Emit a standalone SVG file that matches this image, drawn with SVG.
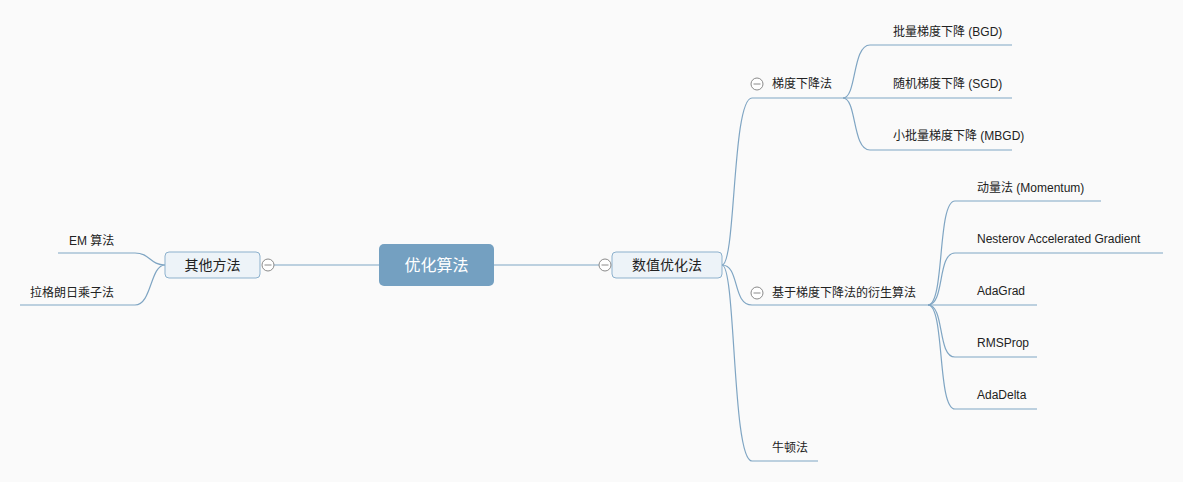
<svg xmlns="http://www.w3.org/2000/svg" width="1183" height="482" viewBox="0 0 1183 482">
<defs>
<style>
.bg{fill:#fafafa}
.ln{fill:none;stroke:#7fa5c3;stroke-width:1.2}
.t{font-family:"Liberation Sans","Noto Sans CJK SC",sans-serif;font-size:12px;fill:#222}
.t14{font-family:"Liberation Sans","Noto Sans CJK SC",sans-serif;font-size:14px;fill:#222;text-anchor:middle}
.root{fill:#74a0c1}
.rt{font-family:"Liberation Sans","Noto Sans CJK SC",sans-serif;font-size:16px;fill:#ffffff;text-anchor:middle}
.box{fill:#edf3f8;stroke:#8db1cd;stroke-width:1}
.cc{fill:#ffffff;stroke:#8a8a8a;stroke-width:1}
.cl{stroke:#8a8a8a;stroke-width:1}
</style>
<g id="collapse">
<circle class="cc" cx="0" cy="0" r="6"/>
<line class="cl" x1="-3.5" y1="0" x2="3.5" y2="0"/>
</g>
</defs>
<rect class="bg" x="0" y="0" width="1183" height="482"/>
<g id="connectors">
<path class="ln" d="M494,265 H599"/>
<path class="ln" d="M274,265 H379"/>
<path class="ln" d="M722,265 C736,265 732,98 752,98 H843"/>
<path class="ln" d="M722,265 C740,265 732,305 752,305 H928"/>
<path class="ln" d="M722,265 C736,265 732,461 752,461 H818"/>
<path class="ln" d="M843,98 C857,98 852,45 870,45 H1012"/>
<path class="ln" d="M843,98 H1012"/>
<path class="ln" d="M843,98 C857,98 852,150 870,150 H1012"/>
<path class="ln" d="M928,305 C945,305 937,201 955,201 H1101"/>
<path class="ln" d="M928,305 C945,305 937,253 955,253 H1163"/>
<path class="ln" d="M928,305 H1037"/>
<path class="ln" d="M928,305 C945,305 937,357 955,357 H1037"/>
<path class="ln" d="M928,305 C945,305 937,409 955,409 H1037"/>
<path class="ln" d="M165,265 C150,265 150,253 135,253 H58"/>
<path class="ln" d="M165,265 C150,265 152,305 135,305 H20"/>
</g>
<g id="root">
<rect class="root" x="379" y="244" width="115" height="42" rx="5"/>
<text class="rt" x="436.5" y="271">优化算法</text>
</g>
<g id="n-numeric">
<rect class="box" x="612" y="252" width="110" height="26" rx="4"/>
<text class="t14" x="667" y="270">数值优化法</text>
<use href="#collapse" x="605" y="265"/>
</g>
<g id="n-other">
<rect class="box" x="165" y="252" width="95" height="26" rx="4"/>
<text class="t14" x="212.5" y="270">其他方法</text>
<use href="#collapse" x="268" y="265"/>
</g>
<g id="n-gd">
<use href="#collapse" x="757" y="84"/>
<text class="t" x="772" y="88">梯度下降法</text>
</g>
<g id="n-derived">
<use href="#collapse" x="757" y="293"/>
<text class="t" x="772" y="297">基于梯度下降法的衍生算法</text>
</g>
<g id="n-newton"><text class="t" x="772" y="452">牛顿法</text></g>
<g id="n-bgd"><text class="t" x="893" y="36">批量梯度下降 (BGD)</text></g>
<g id="n-sgd"><text class="t" x="893" y="88">随机梯度下降 (SGD)</text></g>
<g id="n-mbgd"><text class="t" x="893" y="140">小批量梯度下降 (MBGD)</text></g>
<g id="n-momentum"><text class="t" x="977" y="192">动量法 (Momentum)</text></g>
<g id="n-nag"><text class="t" x="977" y="243">Nesterov Accelerated Gradient</text></g>
<g id="n-adagrad"><text class="t" x="977" y="295">AdaGrad</text></g>
<g id="n-rmsprop"><text class="t" x="977" y="347">RMSProp</text></g>
<g id="n-adadelta"><text class="t" x="977" y="399">AdaDelta</text></g>
<g id="n-em"><text class="t" x="69" y="245">EM 算法</text></g>
<g id="n-lagrange"><text class="t" x="30" y="297">拉格朗日乘子法</text></g>
</svg>
